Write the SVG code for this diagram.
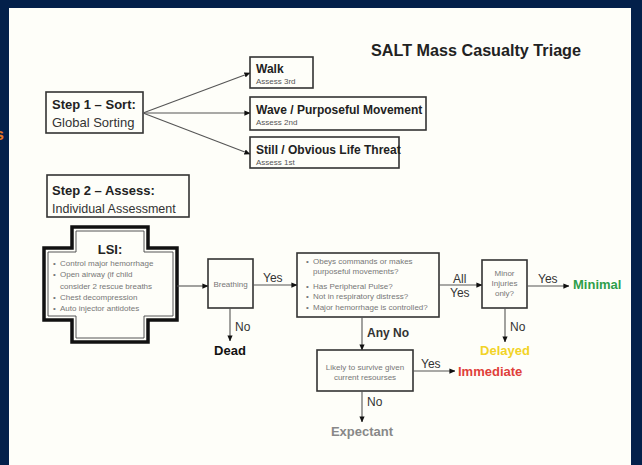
<svg xmlns="http://www.w3.org/2000/svg" width="642" height="465" viewBox="0 0 642 465">
<defs>
<marker id="ah" viewBox="0 0 8 8" refX="7.5" refY="4" markerWidth="6" markerHeight="6" markerUnits="userSpaceOnUse" orient="auto">
<path d="M0,0.5 L8,4 L0,7.5 Z" fill="#111"/>
</marker>
<style>
.box{fill:none;stroke:#333;stroke-width:1.6}
.con{fill:none;stroke:#555;stroke-width:1.1;marker-end:url(#ah)}
text{font-family:"Liberation Sans",Arial,sans-serif}
.h{font-weight:bold;fill:#222}
.r{fill:#333}
.s{font-size:8px;fill:#555}
.q{font-size:8px;fill:#777}
.lbl{font-size:12px;fill:#333}
.out{font-size:13px;font-weight:bold}
</style>
</defs>
<rect x="0" y="0" width="642" height="465" fill="#03204a"/>
<rect x="9" y="8" width="622" height="457" fill="#fefef9"/>
<text x="-5" y="140" font-size="16" font-weight="bold" fill="#e87722">s</text>

<text x="371" y="56" class="h" font-size="17" textLength="210" lengthAdjust="spacingAndGlyphs">SALT Mass Casualty Triage</text>

<g id="step1">
<rect x="46" y="92" width="97" height="41" class="box"/>
<text x="52" y="109" class="h" font-size="13">Step 1 – Sort:</text>
<text x="52" y="127" class="r" font-size="13">Global Sorting</text>
</g>
<g id="walk">
<rect x="250" y="57" width="63" height="31" class="box"/>
<text x="256" y="73" class="h" font-size="12">Walk</text>
<text x="256" y="84" class="s">Assess 3rd</text>
</g>
<g id="wave">
<rect x="250" y="97" width="176" height="33" class="box"/>
<text x="256" y="114" class="h" font-size="12">Wave / Purposeful Movement</text>
<text x="256" y="125" class="s">Assess 2nd</text>
</g>
<g id="still">
<rect x="250" y="137" width="149" height="31" class="box"/>
<text x="256" y="154" class="h" font-size="12">Still / Obvious Life Threat</text>
<text x="256" y="165" class="s">Assess 1st</text>
</g>
<g id="step2">
<rect x="47" y="175" width="142" height="42" class="box"/>
<text x="52" y="195" class="h" font-size="13">Step 2 – Assess:</text>
<text x="52" y="213" class="r" font-size="12.5">Individual Assessment</text>
</g>
<g id="lsi">
<path d="M72,227 H148 V248 H177 V320 H148 V342 H72 V320 H44 V248 H72 Z" fill="none" stroke="#111" stroke-width="3.5"/>
<path d="M76,231 H144 V252 H173 V316 H144 V338 H76 V316 H48 V252 H76 Z" fill="none" stroke="#444" stroke-width="0.9"/>
<text x="110" y="254" class="h" font-size="13" text-anchor="middle">LSI:</text>
<g class="q">
<text x="53" y="266">•</text><text x="60" y="266">Control major hemorrhage</text>
<text x="53" y="277">•</text><text x="60" y="277">Open airway (if child</text>
<text x="60" y="289">consider 2 rescue breaths</text>
<text x="53" y="300">•</text><text x="60" y="300">Chest decompression</text>
<text x="53" y="311">•</text><text x="60" y="311">Auto injector antidotes</text>
</g>
</g>
<g id="breathing">
<rect x="208" y="259" width="45" height="49" class="box"/>
<text x="230.5" y="287" class="q" text-anchor="middle">Breathing</text>
</g>
<g id="questions">
<rect x="297" y="253" width="142" height="64" class="box"/>
<g class="q">
<text x="306" y="264">•</text><text x="313" y="264">Obeys commands or makes</text>
<text x="313" y="274">purposeful movements?</text>
<text x="306" y="289">•</text><text x="313" y="289">Has Peripheral Pulse?</text>
<text x="306" y="299">•</text><text x="313" y="299">Not in respiratory distress?</text>
<text x="306" y="310">•</text><text x="313" y="310">Major hemorrhage is controlled?</text>
</g>
</g>
<g id="minor">
<rect x="482" y="260" width="45" height="48" class="box"/>
<g class="q" text-anchor="middle">
<text x="504.5" y="276">Minor</text>
<text x="504.5" y="286">Injuries</text>
<text x="504.5" y="296">only?</text>
</g>
</g>
<g id="likely">
<rect x="317" y="350" width="96" height="41" class="box"/>
<g class="q" text-anchor="middle">
<text x="365" y="370">Likely to survive given</text>
<text x="365" y="380">current resourses</text>
</g>
</g>
<g id="dead"><text x="230" y="355" class="out" fill="#111" text-anchor="middle">Dead</text></g>
<g id="minimal"><text x="573" y="289" class="out" fill="#2e9e4a">Minimal</text></g>
<g id="delayed"><text x="505" y="355" class="out" fill="#f2d327" text-anchor="middle">Delayed</text></g>
<g id="immediate"><text x="458" y="376" class="out" fill="#e0403a">Immediate</text></g>
<g id="expectant"><text x="362" y="436" class="out" fill="#888" text-anchor="middle">Expectant</text></g>

<g id="connectors">
<line x1="143" y1="113" x2="250" y2="73" class="con"/>
<line x1="143" y1="113" x2="250" y2="113" class="con"/>
<line x1="143" y1="113" x2="250" y2="154" class="con"/>
<line x1="177" y1="286" x2="208" y2="286" class="con"/>
<line x1="253" y1="285" x2="297" y2="285" class="con"/>
<line x1="230" y1="308" x2="230" y2="341" class="con"/>
<line x1="439" y1="285" x2="482" y2="285" class="con"/>
<line x1="527" y1="286" x2="569" y2="286" class="con"/>
<line x1="505" y1="308" x2="505" y2="342" class="con"/>
<line x1="362" y1="317" x2="362" y2="350" class="con"/>
<line x1="413" y1="371" x2="455" y2="371" class="con"/>
<line x1="362" y1="391" x2="362" y2="422" class="con"/>
<text x="263" y="282" class="lbl">Yes</text>
<text x="235" y="331" class="lbl">No</text>
<text x="453" y="283" class="lbl">All</text>
<text x="450" y="297" class="lbl">Yes</text>
<text x="538" y="283" class="lbl">Yes</text>
<text x="510" y="331" class="lbl">No</text>
<text x="367" y="337" class="lbl" font-weight="bold">Any No</text>
<text x="421" y="368" class="lbl">Yes</text>
<text x="367" y="406" class="lbl">No</text>
</g>
</svg>
